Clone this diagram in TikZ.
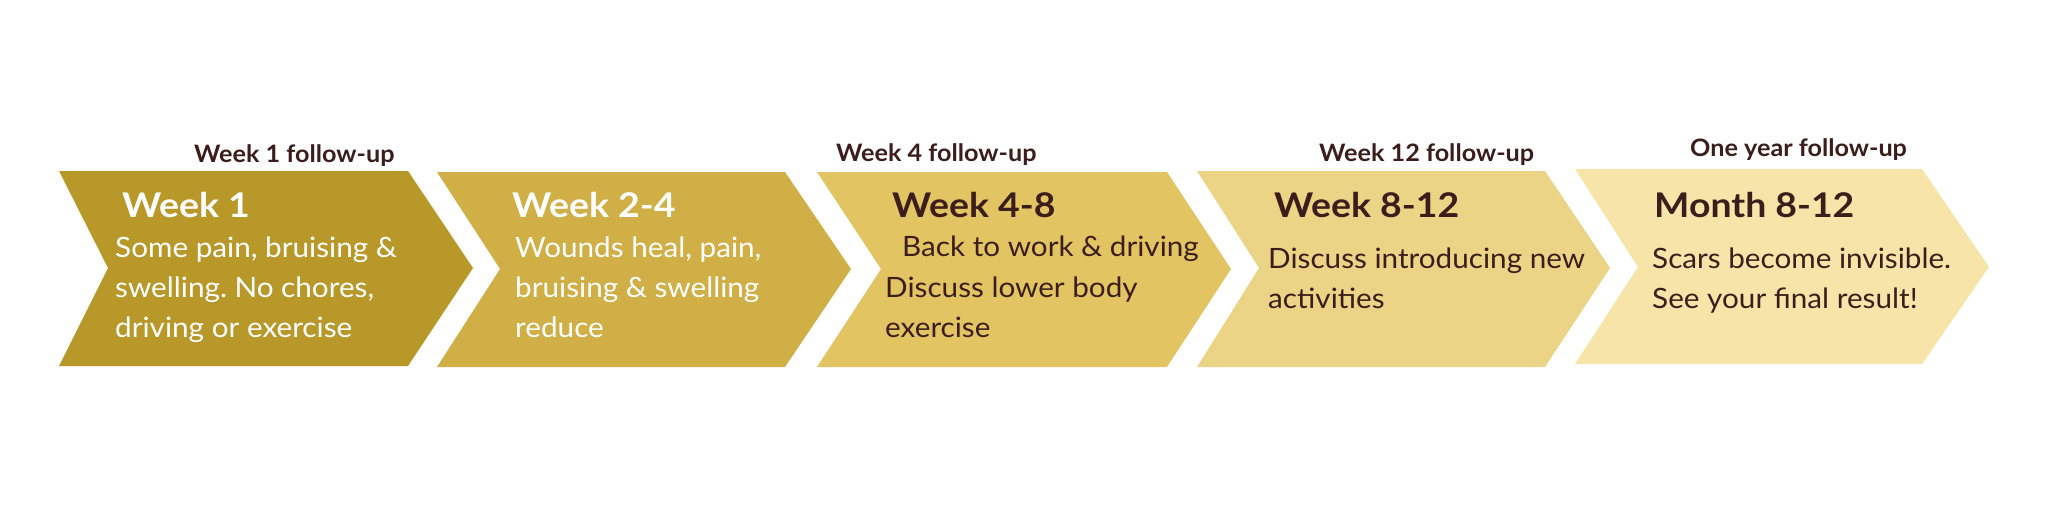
\documentclass[tikz,border=0pt]{standalone}
\usepackage{fontspec}
\setmainfont{Lato}
\newfontfamily\lblfont{Lato}[FakeStretch=1.05]
\newfontfamily\ttlfont{Lato}[FakeStretch=1.10]
\newfontfamily\bodyfont{Lato}[FakeStretch=1.06]
\definecolor{cA}{RGB}{185,152,42}
\definecolor{cB}{RGB}{208,175,70}
\definecolor{cC}{RGB}{226,196,98}
\definecolor{cD}{RGB}{236,212,134}
\definecolor{cE}{RGB}{247,228,168}
\definecolor{txt}{RGB}{59,30,27}
\frenchspacing
\begin{document}
\begin{tikzpicture}[x=1pt,y=-1pt,
  lbl/.style={inner sep=0pt,anchor=base west,text=txt,font=\lblfont\bfseries\fontsize{24}{28}\selectfont},
  ttl/.style={inner sep=0pt,anchor=base west,font=\ttlfont\bfseries\fontsize{34}{40}\selectfont},
  body/.style={inner sep=0pt,anchor=base west,font=\bodyfont\fontsize{28}{40}\selectfont}]
\useasboundingbox[fill=white] (0,0) rectangle (2048,508);
% chevrons
\fill[cA] (59,171) -- (408,171) -- (473,268) -- (408,366) -- (59,366) -- (108,268) -- cycle;
\fill[cB] (437,172) -- (785,172) -- (851,269) -- (785,367) -- (437,367) -- (500,269) -- cycle;
\fill[cC] (817,172) -- (1167,172) -- (1231,269) -- (1167,367) -- (817,367) -- (881,269) -- cycle;
\fill[cD] (1197,171) -- (1545,171) -- (1610,268) -- (1545,367) -- (1197,367) -- (1259,268) -- cycle;
\fill[cE] (1575,169) -- (1922,169) -- (1989,267) -- (1922,364) -- (1575,364) -- (1638,267) -- cycle;
% follow-up labels
\node[lbl] (f1) at (194,162) {Week 1 follow-up};
\node[lbl] (f2) at (836,161) {Week 4 follow-up};
\node[lbl] (f3) at (1319,161) {Week 12 follow-up};
\node[lbl] (f4) at (1690,157) {One year follow-up};
% chevron 1
\node[ttl,text=white] (t1) at (122,217) {Week 1};
\node[body,text=white] (b1a) at (115,257) {Some pain, bruising \&};
\node[body,text=white] (b1b) at (115,297) {swelling. No chores,};
\node[body,text=white] (b1c) at (115,337) {driving or exercise};
% chevron 2
\node[ttl,text=white] (t2) at (512,217) {Week 2-4};
\node[body,text=white] (b2a) at (515,257) {Wounds heal, pain,};
\node[body,text=white] (b2b) at (515,297) {bruising \& swelling};
\node[body,text=white] (b2c) at (515,337) {reduce};
% chevron 3
\node[ttl,text=txt] (t3) at (892,217) {Week 4-8};
\node[body,text=txt] (b3a) at (902,256) {Back to work \& driving};
\node[body,text=txt] (b3b) at (885,297) {Discuss lower body};
\node[body,text=txt] (b3c) at (885,337) {exercise};
% chevron 4
\node[ttl,text=txt] (t4) at (1274,217) {Week 8-12};
\node[body,text=txt] (b4a) at (1268,268) {Discuss introducing new};
\node[body,text=txt] (b4b) at (1268,308) {activities};
% chevron 5
\node[ttl,text=txt] (t5) at (1654,217) {Month 8-12};
\node[body,text=txt] (b5a) at (1652,268) {Scars become invisible.};
\node[body,text=txt] (b5b) at (1652,308) {See your final result!};
\end{tikzpicture}
\end{document}
